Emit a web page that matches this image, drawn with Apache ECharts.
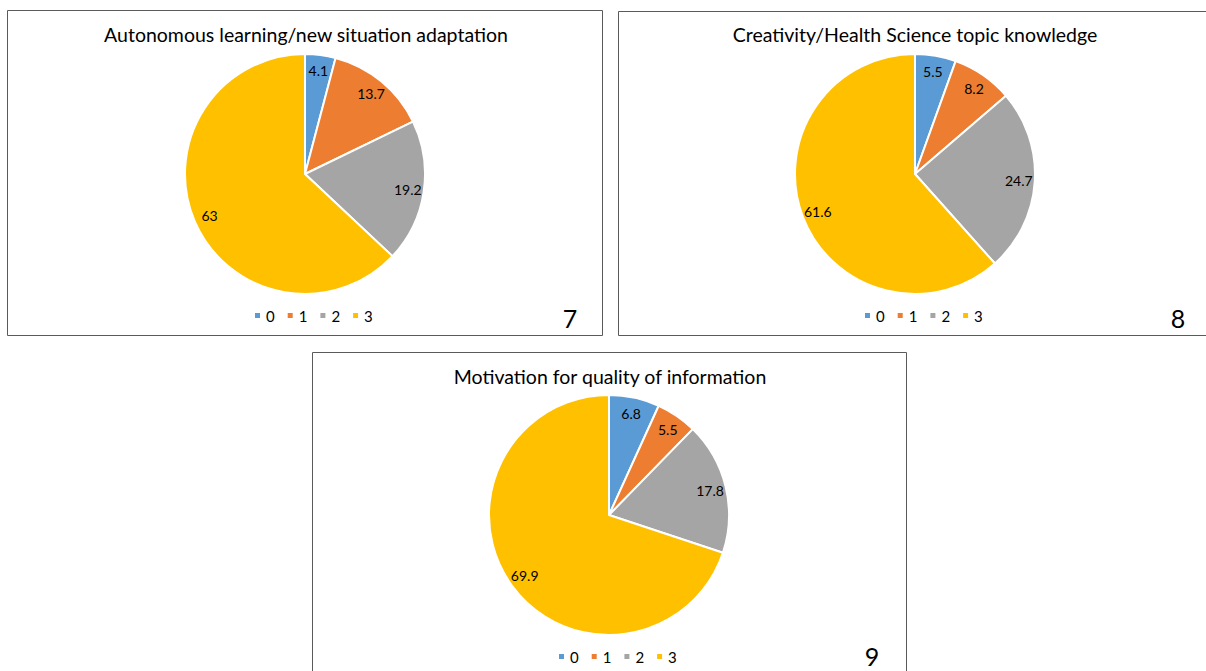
<!DOCTYPE html>
<html>
<head>
<meta charset="utf-8">
<script src="https://cdn.jsdelivr.net/npm/echarts@6/dist/echarts.min.js"></script>
<style>
html,body{margin:0;padding:0;background:#fff;}
#c{width:1206px;height:671px;}
</style>
</head>
<body>
<div id="c"></div>
<script>
// Data
var categories = ['0', '1', '2', '3'];
var titles = [
  'Autonomous learning/new situation adaptation',
  'Creativity/Health Science topic knowledge',
  'Motivation for quality of information'
];
var panelNumbers = ['7', '8', '9'];
var values7 = [4.1, 13.7, 19.2, 63];
var values8 = [5.5, 8.2, 24.7, 61.6];
var values9 = [6.8, 5.5, 17.8, 69.9];
var colors = ['#5B9BD5', '#ED7D31', '#A5A5A5', '#FFC000'];

// Layout
var FONT = 'Lato, "Liberation Sans", sans-serif';
var R = 120;
var panels = [
  {box: [7.5, 10.5, 595, 325], center: [305, 174], title: [306, 34], num: [570, 318], legend: [253, 308], values: values7},
  {box: [618.5, 11.5, 600, 324], center: [915, 174], title: [915, 34], num: [1178, 318], legend: [863, 308], values: values8},
  {box: [312.5, 352.5, 594, 330], center: [609, 515], title: [610, 376], num: [872, 656], legend: [557, 649], values: values9}
];

function mkData(vals) {
  return categories.map(function (c, i) { return {name: c, value: vals[i]}; });
}

var series = [], legends = [], graphics = [];
panels.forEach(function (p, k) {
  series.push({
    type: 'pie',
    center: p.center,
    radius: [0, R],
    startAngle: 90,
    clockwise: true,
    animation: false,
    legendHoverLink: false,
    itemStyle: {borderColor: '#fff', borderWidth: 2},
    label: {show: false},
    labelLine: {show: false},
    emphasis: {disabled: true},
    data: mkData(p.values)
  });
  series.push({
    type: 'pie',
    center: p.center,
    radius: [R - 38, R],
    startAngle: 90,
    clockwise: true,
    animation: false,
    silent: true,
    itemStyle: {color: 'rgba(0,0,0,0)', borderWidth: 0},
    label: {
      show: true, position: 'inside', color: '#000',
      fontFamily: FONT, fontSize: 14,
      formatter: function (d) { return String(d.value); }
    },
    labelLine: {show: false},
    emphasis: {disabled: true},
    data: mkData(p.values)
  });
  legends.push({
    left: p.legend[0], top: p.legend[1],
    orient: 'horizontal',
    itemWidth: 7, itemHeight: 7, itemGap: 11,
    icon: 'rect',
    selectedMode: false,
    padding: 0,
    textStyle: {fontFamily: FONT, fontSize: 15, color: '#000', lineHeight: 14},
    data: categories.map(function (c, i) { return {name: c, itemStyle: {color: colors[i]}}; })
  });
  graphics.push({
    type: 'rect', silent: true,
    shape: {x: p.box[0], y: p.box[1], width: p.box[2], height: p.box[3]},
    style: {fill: 'none', stroke: '#5a5a5a', lineWidth: 1}
  });
  graphics.push({
    type: 'text', silent: true, x: p.title[0], y: p.title[1],
    style: {text: titles[k], fontFamily: FONT, fontSize: 19.5, fill: '#000', textAlign: 'center', textVerticalAlign: 'middle'}
  });
  graphics.push({
    type: 'text', silent: true, x: p.num[0], y: p.num[1],
    style: {text: panelNumbers[k], fontFamily: FONT, fontSize: 25, fill: '#000', textAlign: 'center', textVerticalAlign: 'middle'}
  });
});

var chart = echarts.init(document.getElementById('c'), null, {renderer: 'svg'});
chart.setOption({
  backgroundColor: '#fff',
  color: colors,
  animation: false,
  legend: legends,
  graphic: graphics,
  series: series
});
</script>
</body>
</html>
